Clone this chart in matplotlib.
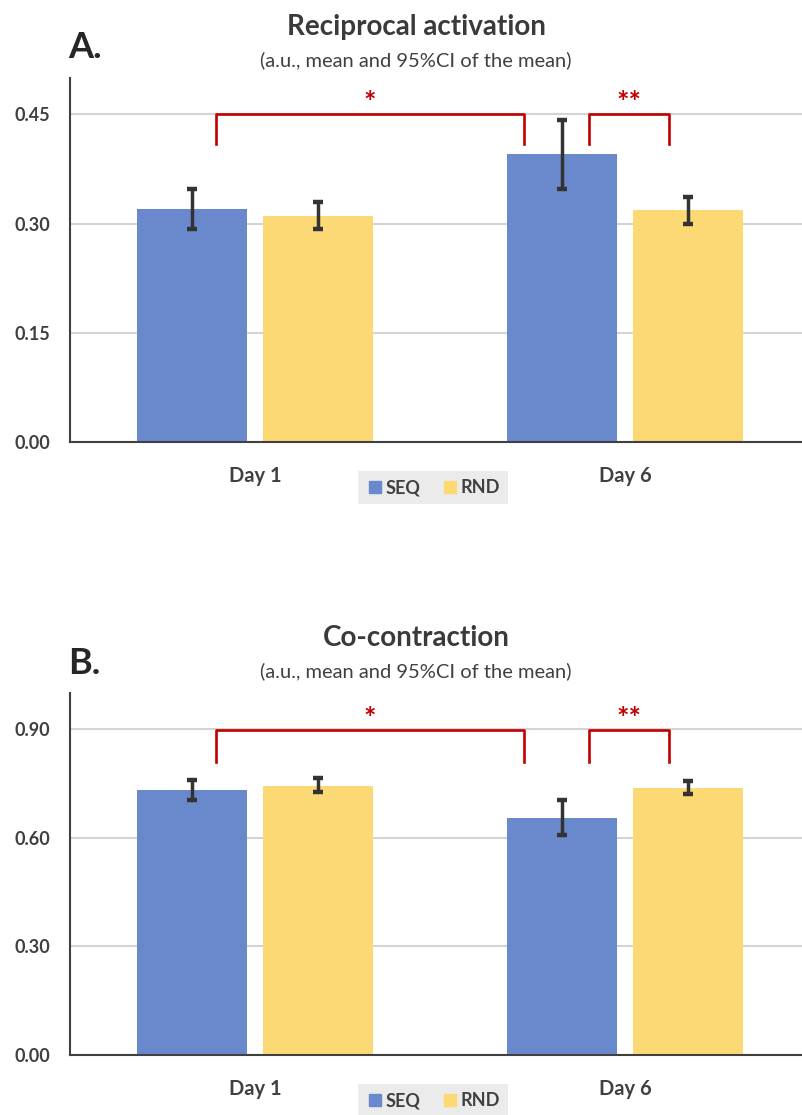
import numpy as np
import matplotlib.pyplot as plt
from matplotlib.lines import Line2D

plt.rcParams['font.family'] = ['Lato', 'DejaVu Sans']

days = ['Day 1', 'Day 6']
groups = ['SEQ', 'RND']

# Reciprocal activation (a.u.), mean and 95%CI bounds
recip_seq = [0.320, 0.395]
recip_seq_lo = [0.293, 0.348]
recip_seq_hi = [0.347, 0.442]
recip_rnd = [0.311, 0.318]
recip_rnd_lo = [0.292, 0.299]
recip_rnd_hi = [0.330, 0.337]

# Co-contraction (a.u.), mean and 95%CI bounds
cocon_seq = [0.732, 0.655]
cocon_seq_lo = [0.704, 0.607]
cocon_seq_hi = [0.759, 0.704]
cocon_rnd = [0.744, 0.737]
cocon_rnd_lo = [0.726, 0.721]
cocon_rnd_hi = [0.764, 0.756]

recip_ticks = [0.00, 0.15, 0.30, 0.45]
cocon_ticks = [0.00, 0.30, 0.60, 0.90]

# significance brackets: (x left, x right, label)
brackets = [(-0.106, 0.727, '*'), (0.903, 1.12, '**')]

SEQ_COLOR = '#6a89cc'
RND_COLOR = '#fdd975'
TXT = '#404040'
SIG = '#c00000'


def draw_panel(fig, rect, seq, seq_lo, seq_hi, rnd, rnd_lo, rnd_hi,
               ticks, ymax, br_y, br_drop, star_y):
    ax = fig.add_axes(rect)
    x = np.arange(len(days))
    w = 0.297
    off = 0.17
    for vals, lo, hi, xs, col in [(seq, seq_lo, seq_hi, x - off, SEQ_COLOR),
                                  (rnd, rnd_lo, rnd_hi, x + off, RND_COLOR)]:
        vals = np.array(vals)
        err = [vals - np.array(lo), np.array(hi) - vals]
        ax.bar(xs, vals, width=w, color=col, zorder=2)
        ax.errorbar(xs, vals, yerr=err, fmt='none', ecolor='#333333',
                    elinewidth=2.5, capsize=3.8, capthick=3.2, zorder=3)

    for x0, x1, lab in brackets:
        ax.plot([x0, x0, x1, x1], [br_y - br_drop, br_y, br_y, br_y - br_drop],
                color=SIG, lw=1.9, zorder=4, clip_on=False)
        ax.text((x0 + x1) / 2, star_y, lab, color=SIG, fontsize=21,
                fontweight='bold', ha='center', va='center')

    ax.set_xlim(-0.5, 1.5)
    ax.set_ylim(0, ymax)
    ax.set_yticks(ticks)
    ax.set_yticklabels(['%.2f' % t for t in ticks])
    ax.set_xticks(x)
    ax.set_xticklabels(days)
    ax.yaxis.grid(True, color='#d4d4d4', lw=1.5, zorder=0)
    ax.set_axisbelow(True)
    for s in ['top', 'right']:
        ax.spines[s].set_visible(False)
    for s in ['left', 'bottom']:
        ax.spines[s].set_color(TXT)
        ax.spines[s].set_linewidth(1.5)
    ax.tick_params(axis='y', length=0, pad=14, labelsize=13, labelcolor=TXT)
    ax.tick_params(axis='x', length=0, pad=17, labelsize=14.5, labelcolor=TXT)
    for lab in ax.get_xticklabels() + ax.get_yticklabels():
        lab.set_fontweight('bold')
    return ax


def add_legend(fig, y_top):
    handles = [Line2D([], [], marker='s', ls='none', color=c, markersize=8)
               for c in [SEQ_COLOR, RND_COLOR]]
    leg = fig.legend(handles, groups, loc='upper center',
                     bbox_to_anchor=(433 / 803, y_top), ncol=2, frameon=True,
                     fancybox=False, fontsize=13, handletextpad=0.1,
                     columnspacing=1.1, borderpad=0.45, handlelength=1.0,
                     borderaxespad=0)
    leg.get_frame().set_facecolor('#e6e6e6')
    leg.get_frame().set_edgecolor('none')
    for t in leg.get_texts():
        t.set_color(TXT)
        t.set_fontweight('bold')


fig = plt.figure(figsize=(8.03, 11.15), dpi=100)

draw_panel(fig, [70 / 803, 1 - 442 / 1115, 740 / 803, 364 / 1115],
           recip_seq, recip_seq_lo, recip_seq_hi,
           recip_rnd, recip_rnd_lo, recip_rnd_hi,
           recip_ticks, 0.5, 0.451, 0.041, 0.466)
draw_panel(fig, [70 / 803, 1 - 1055 / 1115, 740 / 803, 362 / 1115],
           cocon_seq, cocon_seq_lo, cocon_seq_hi,
           cocon_rnd, cocon_rnd_lo, cocon_rnd_hi,
           cocon_ticks, 1.0, 0.898, 0.089, 0.928)

add_legend(fig, 1 - 471 / 1115)
add_legend(fig, 1 - 1084 / 1115)

# titles
for title, ty, sy, letter, ly in [('Reciprocal activation', 27, 60, 'A.', 48),
                                  ('Co-contraction', 638, 671, 'B.', 663)]:
    fig.text(416 / 803, 1 - ty / 1115, title, ha='center', va='center',
             fontsize=20, fontweight='bold', color='#3a3a3a')
    fig.text(416 / 803, 1 - sy / 1115, '(a.u., mean and 95%CI of the mean)',
             ha='center', va='center', fontsize=14.5, color=TXT)
    fig.text(68 / 803, 1 - ly / 1115, letter, ha='left', va='center',
             fontsize=26, fontweight='bold', color='#262626')

fig.savefig('out.png', dpi=100)
